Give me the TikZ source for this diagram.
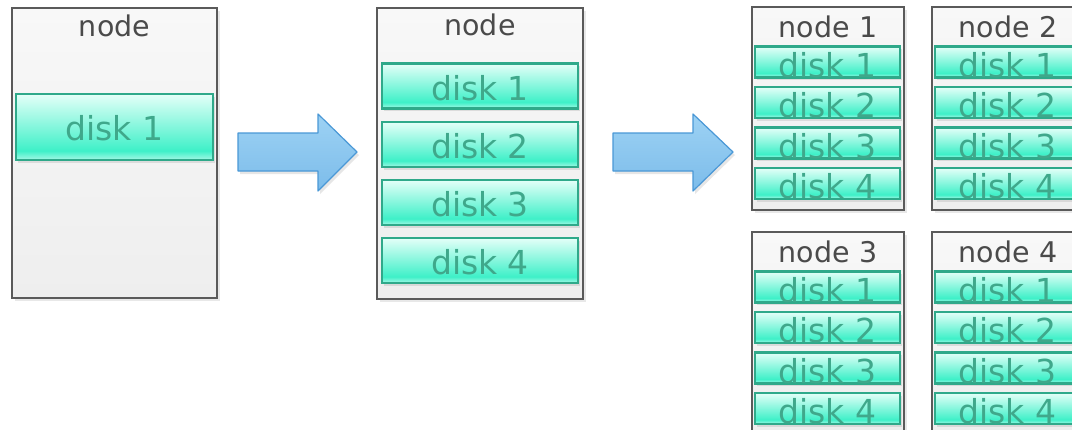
\documentclass[tikz,border=0pt]{standalone}
\usepackage{fontspec}
\setmainfont{DejaVu Sans}
\usetikzlibrary{shadows}
\definecolor{boxedge}{HTML}{5A5A5A}
\definecolor{boxtop}{HTML}{F8F8F8}
\definecolor{boxbot}{HTML}{EEEEEE}
\definecolor{diskedge}{HTML}{2FA98A}
\definecolor{disktext}{HTML}{3FA88B}
\definecolor{diskA}{HTML}{E4FFF8}
\definecolor{diskB}{HTML}{3EF0C8}
\definecolor{diskC}{HTML}{A6F8E6}
\definecolor{arrowtop}{HTML}{9DD2F4}
\definecolor{arrowbot}{HTML}{7CBCEA}
\definecolor{arrowedge}{HTML}{4A98D6}
\definecolor{titletext}{HTML}{4A4A4A}
\pgfdeclareverticalshading{diskshade}{100bp}{color(0bp)=(diskC); color(25bp)=(diskC); color(32bp)=(diskB); color(75bp)=(diskA); color(100bp)=(diskA)}
\begin{document}
\begin{tikzpicture}[x=1pt,y=-1pt,
  nodebox/.style={draw=boxedge, line width=1.3pt, top color=boxtop, bottom color=boxbot, inner sep=0pt,
    drop shadow={opacity=0.18, shadow xshift=2.5pt, shadow yshift=-2.5pt}},
  diskbox/.style={draw=diskedge, line width=2.6pt, shade, shading=diskshade, inner sep=0pt,
    text=disktext, font=\fontsize{33}{33}\selectfont, text depth=0pt,
    drop shadow={opacity=0.2, shadow xshift=1.5pt, shadow yshift=-2.5pt}},
  titlelabel/.style={text=titletext, font=\fontsize{28.5}{30}\selectfont, anchor=base, inner sep=0pt},
  bigarrow/.style={draw=arrowedge, line width=1.2pt, top color=arrowtop, bottom color=arrowbot, line join=round,
    drop shadow={opacity=0.2, shadow xshift=2pt, shadow yshift=-3pt}}]
\useasboundingbox (0,0) rectangle (1072,429);

% panel 1
\node[nodebox, minimum width=205pt, minimum height=290pt] (na) at (114.5,153) {};
\node[titlelabel] (na-t) at (114.5,36) {node};
\node[diskbox, minimum width=197pt, minimum height=66pt, text height=26pt] (na-d1) at (114.5,127) {disk 1};

% arrow 1
\draw[bigarrow] (238,133) -- (318,133) -- (318,114) -- (357,152) -- (318,191) -- (318,171) -- (238,171) -- cycle;

% panel 2
\node[nodebox, minimum width=206pt, minimum height=291pt] (nb) at (480,153.5) {};
\node[titlelabel] (nb-t) at (480,35) {node};
\foreach \i/\cy in {1/86,2/144.5,3/202.5,4/260.5}
  \node[diskbox, minimum width=196pt, minimum height=45pt, text height=28pt] (nb-d\i) at (480,\cy) {disk \i};

% arrow 2
\draw[bigarrow] (613,133) -- (693,133) -- (693,114) -- (733,152) -- (693,191) -- (693,171) -- (613,171) -- cycle;

% panel 3
\foreach \nm/\cx/\cy/\lab in {nc/828/108.5/1, nd/1008/108.5/2, ne/828/333.5/3, nf/1008/333.5/4}{
  \node[nodebox, minimum width=152pt, minimum height=203pt] (\nm) at (\cx,\cy) {};
  \node[titlelabel] (\nm-t) at (\cx,\cy-71.5) {node \lab};
  \foreach \i/\dy in {1/-46.5,2/-6,3/34.5,4/75}
    \node[diskbox, minimum width=145pt, minimum height=31pt, text height=30pt] (\nm-d\i) at (\cx-0.5,\cy+\dy) {disk \i};
}
\end{tikzpicture}
\end{document}
